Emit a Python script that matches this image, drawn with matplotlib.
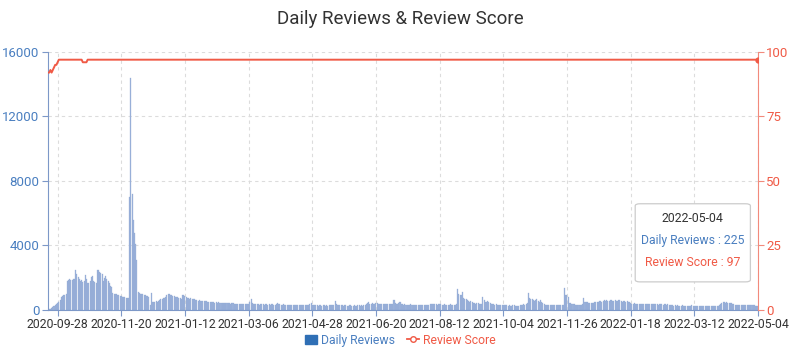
import matplotlib
matplotlib.use("Agg")
import matplotlib.pyplot as plt
from matplotlib.patches import FancyBboxPatch, Patch
from matplotlib.lines import Line2D
import numpy as np
import pandas as pd

plt.rcParams['font.family'] = ['Roboto', 'DejaVu Sans']

# daily reviews, one value per day starting 2020-09-20
daily_reviews = [
    30, 50, 80, 120, 160, 220, 300, 380, 450, 520,
    600, 780, 850, 900, 930, 960, 1820, 1850, 1900, 1870,
    1880, 1950, 1900, 2450, 2200, 2050, 1900, 1800, 1850, 1750,
    1780, 2150, 1900, 1700, 1650, 1800, 2050, 2100, 1800, 1750,
    1700, 2500, 2450, 2350, 2300, 2200, 1800, 2000, 2100, 1950,
    1800, 1700, 1500, 1450, 1050, 1000, 980, 1000, 950, 930,
    880, 850, 820, 800, 780, 760, 740, 720, 7000, 14400,
    7200, 5600, 4800, 4100, 3100, 1100, 1050, 1000, 980, 1000,
    950, 900, 880, 850, 830, 300, 1050, 480, 500, 520,
    540, 520, 560, 600, 650, 700, 720, 750, 800, 900,
    980, 1000, 950, 900, 880, 850, 800, 820, 780, 760,
    720, 700, 950, 900, 850, 780, 760, 720, 700, 720,
    680, 700, 650, 640, 600, 580, 590, 560, 570, 550,
    580, 540, 530, 500, 490, 510, 480, 470, 500, 460,
    470, 450, 480, 460, 440, 450, 460, 430, 440, 420,
    420, 410, 400, 420, 410, 390, 400, 380, 390, 370,
    380, 370, 360, 370, 350, 360, 340, 350, 500, 650,
    450, 400, 380, 370, 340, 360, 330, 350, 370, 340,
    330, 360, 340, 320, 350, 330, 340, 360, 320, 330,
    380, 450, 370, 340, 330, 320, 340, 310, 330, 320,
    300, 320, 290, 310, 300, 280, 310, 290, 300, 320,
    290, 280, 300, 310, 290, 280, 300, 320, 340, 460,
    330, 300, 290, 280, 300, 270, 290, 280, 260, 290,
    280, 270, 290, 260, 280, 300, 290, 310, 330, 560,
    380, 320, 300, 290, 280, 300, 270, 290, 280, 260,
    270, 290, 280, 260, 270, 280, 250, 270, 290, 280,
    260, 280, 270, 300, 320, 350, 420, 470, 400, 380,
    430, 400, 390, 460, 420, 380, 360, 380, 350, 370,
    360, 390, 350, 370, 340, 360, 380, 400, 620, 450,
    400, 380, 420, 480, 400, 350, 330, 340, 320, 330,
    310, 320, 340, 300, 310, 330, 320, 300, 310, 290,
    300, 320, 310, 290, 300, 310, 320, 330, 340, 350,
    360, 340, 370, 350, 330, 340, 360, 350, 330, 320,
    340, 330, 310, 330, 320, 340, 330, 310, 320, 330,
    350, 1280, 1000, 930, 950, 1140, 720, 650, 700, 600,
    550, 520, 580, 500, 420, 410, 400, 430, 410, 390,
    400, 380, 830, 600, 520, 500, 540, 480, 450, 370,
    360, 350, 330, 340, 320, 310, 330, 300, 290, 310,
    300, 280, 290, 270, 280, 260, 270, 290, 280, 260,
    250, 270, 260, 280, 300, 320, 350, 330, 380, 420,
    1080, 720, 650, 700, 600, 550, 620, 700, 580, 520,
    600, 500, 450, 380, 330, 320, 310, 300, 320, 310,
    300, 310, 290, 300, 320, 310, 300, 290, 310, 330,
    1340, 930, 900, 800, 420, 410, 380, 350, 340, 330,
    320, 330, 310, 320, 330, 340, 720, 520, 500, 480,
    450, 420, 410, 420, 450, 470, 480, 500, 520, 540,
    560, 520, 580, 600, 560, 620, 580, 540, 600, 620,
    580, 560, 600, 540, 580, 600, 620, 560, 520, 580,
    540, 500, 560, 520, 480, 420, 400, 380, 410, 390,
    370, 380, 400, 360, 370, 390, 360, 380, 350, 370,
    360, 380, 350, 370, 340, 360, 380, 350, 330, 360,
    340, 350, 330, 360, 340, 320, 340, 310, 300, 290,
    280, 270, 290, 260, 280, 270, 250, 260, 280, 270,
    250, 260, 240, 270, 250, 260, 280, 250, 240, 260,
    250, 270, 240, 250, 260, 230, 250, 270, 240, 260,
    250, 240, 260, 230, 250, 260, 240, 250, 270, 300,
    380, 450, 520, 480, 420, 500, 460, 410, 450, 420,
    400, 350, 320, 310, 330, 300, 320, 310, 290, 300,
    320, 310, 290, 300, 330, 310, 290, 280, 300, 260,
    250, 225,
]

# review score: moves in the first weeks, then stays at 97
score_head = [
    92, 92, 93, 92, 93, 94, 95, 95, 96, 97,
    97, 97, 97, 97, 97, 97, 97, 97, 97, 97,
    97, 97, 97, 97, 97, 97, 97, 97, 97, 96,
    96, 96, 96, 97,
]
score_rest = 97
review_score = score_head + [score_rest] * (len(daily_reviews) - len(score_head))

dates = pd.date_range('2020-09-20', periods=len(daily_reviews), freq='D')
tick_labels = ['2020-09-28', '2020-11-20', '2021-01-12', '2021-03-06', '2021-04-28',
               '2021-06-20', '2021-08-12', '2021-10-04', '2021-11-26', '2022-01-18',
               '2022-03-12', '2022-05-04']

blue_axis = '#7d98c8'
blue_text = '#4a7fc0'
bar_color = '#9cb3da'
red = '#f05a46'
red_axis = '#f28a7c'
grid_c = '#dcdcdc'

fig = plt.figure(figsize=(8, 3.6), dpi=100)
ax = fig.add_axes([0.06, 0.139, 0.8875, 0.7167])
ax2 = ax.twinx()

ax.bar(dates, daily_reviews, width=0.85, color=bar_color, edgecolor='#8ea7d3',
       linewidth=0.2, zorder=2)
ax2.plot(dates, review_score, color=red, linewidth=1.4, zorder=3)
ax2.plot(dates[-1:], review_score[-1:], 'o', color=red, markersize=3.5, zorder=4)

ax.set_xlim(dates[0], dates[-1])
ax.set_ylim(0, 16000)
ax2.set_ylim(0, 100)
ax.set_yticks([0, 4000, 8000, 12000, 16000])
ax2.set_yticks([0, 25, 50, 75, 100])

tick_dates = pd.to_datetime(tick_labels)
ax.set_xticks(tick_dates)
ax.set_xticklabels(tick_labels)

ax.grid(True, color=grid_c, linestyle=(0, (3, 3)), linewidth=0.8, zorder=0)
ax.set_axisbelow(True)

for a in (ax, ax2):
    a.spines['top'].set_visible(False)
ax.spines['right'].set_visible(False)
ax2.spines['left'].set_visible(False)
ax2.spines['bottom'].set_visible(False)
ax.spines['left'].set_color(blue_axis)
ax.spines['bottom'].set_color(blue_axis)
ax2.spines['right'].set_color(red_axis)

ax.tick_params(axis='y', colors=blue_axis, labelcolor=blue_text, labelsize=9.5, length=4, pad=2)
ax.tick_params(axis='x', colors=blue_axis, labelcolor='#333333', labelsize=8.8, length=4, pad=2)
ax2.tick_params(axis='y', colors=red_axis, labelcolor=red, labelsize=9.5, length=4, pad=2)

fig.suptitle('Daily Reviews & Review Score', x=0.5, y=0.972, fontsize=13.5, color='#333333')

handles = [Patch(facecolor='#2f6fb5', edgecolor='#2f6fb5'),
           Line2D([0], [0], color=red, marker='o', markerfacecolor='white',
                  markersize=4, linewidth=1.3)]
leg = fig.legend(handles, ['Daily Reviews', 'Review Score'], loc='center',
                 bbox_to_anchor=(0.5, 0.055), ncol=2, frameon=False, fontsize=8.8,
                 handlelength=1.0, handleheight=0.8, handletextpad=0.3, columnspacing=1.0)
for txt, c in zip(leg.get_texts(), [blue_text, red]):
    txt.set_color(c)

# hover tooltip for the last day
box = FancyBboxPatch((0.794, 0.217), 0.144, 0.217, transform=fig.transFigure,
                     boxstyle='round,pad=0,rounding_size=0.006', facecolor='white',
                     edgecolor='#cccccc', linewidth=0.9, zorder=10)
fig.patches.append(box)
fig.text(0.866, 0.392, tick_labels[-1], ha='center', va='center', fontsize=8.8,
         color='#333333', zorder=11)
fig.text(0.866, 0.333, f'Daily Reviews : {daily_reviews[-1]}', ha='center', va='center',
         fontsize=8.8, color=blue_text, zorder=11)
fig.text(0.866, 0.272, f'Review Score : {review_score[-1]}', ha='center', va='center',
         fontsize=8.8, color=red, zorder=11)

fig.savefig('out.png', dpi=100)
